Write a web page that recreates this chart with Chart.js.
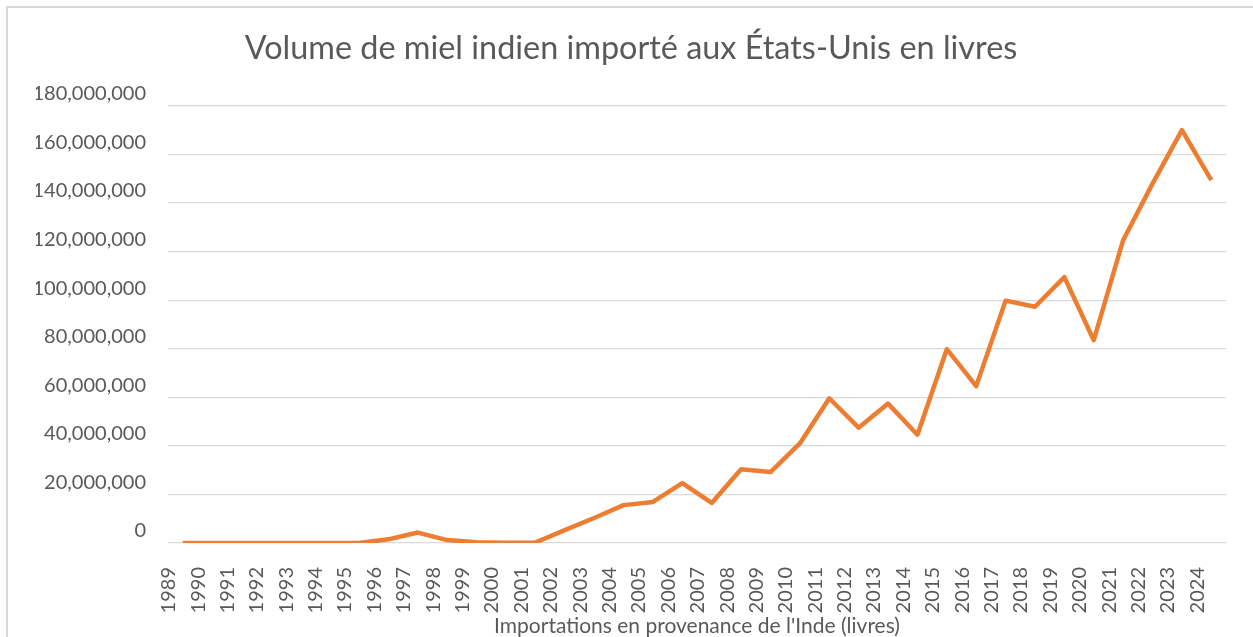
<!DOCTYPE html>
<html>
<head>
<meta charset="utf-8">
<script src="https://cdn.jsdelivr.net/npm/chart.js@4"></script>
<style>
  html, body { margin: 0; padding: 0; background: #fff; overflow: hidden; }
  #frame { position: absolute; left: 6px; top: 6px; width: 1300px; height: 700px; border: 2px solid #d9d9d9; }
  #wrap { position: absolute; left: 0; top: 0; width: 1253px; height: 637px; }
</style>
</head>
<body>
<div id="frame"></div>
<div id="wrap"><canvas id="chart"></canvas></div>
<script>
const years = ['1989','1990','1991','1992','1993','1994','1995','1996','1997','1998',
  '1999','2000','2001','2002','2003','2004','2005','2006','2007','2008','2009','2010',
  '2011','2012','2013','2014','2015','2016','2017','2018','2019','2020','2021','2022',
  '2023','2024'];

// livres importées depuis l'Inde
const importsLbs = [0, 0, 0, 0, 0, 0, 0, 1500000, 4300000, 1200000,
  300000, 100000, 200000, 5300000, 10300000, 15600000, 16900000, 24700000, 16500000, 30400000, 29200000, 41000000,
  59600000, 47500000, 57400000, 44600000, 79800000, 64600000, 99800000, 97300000, 109500000, 83500000, 124700000, 148000000,
  170000000, 149400000];

const yMax = 180000000;
const yStep = 20000000;

const grey = '#595959';
const font = 'Lato, "Open Sans", sans-serif';

const ctx = document.getElementById('chart').getContext('2d');
new Chart(ctx, {
  type: 'line',
  data: {
    labels: years,
    datasets: [{
      label: "Importations en provenance de l'Inde (livres)",
      data: importsLbs,
      borderColor: '#ED7D31',
      backgroundColor: '#ED7D31',
      borderWidth: 4.5,
      pointRadius: 0,
      tension: 0,
      borderJoinStyle: 'round'
    }]
  },
  options: {
    responsive: true,
    maintainAspectRatio: false,
    animation: false,
    layout: {
      padding: { left: 36, right: 27, top: 0, bottom: 0 }
    },
    plugins: {
      legend: { display: false },
      tooltip: { enabled: false },
      title: {
        display: true,
        text: 'Volume de miel indien importé aux États-Unis en livres',
        color: grey,
        font: { family: font, size: 32.4, weight: 'normal' },
        padding: { top: 29, bottom: 38 }
      }
    },
    scales: {
      x: {
        offset: true,
        grid: { display: false },
        border: { display: false },
        ticks: {
          color: grey,
          font: { family: font, size: 20 },
          minRotation: 90,
          maxRotation: 90,
          autoSkip: false,
          padding: 16,
          labelOffset: -14
        },
        title: {
          display: true,
          text: "Importations en provenance de l'Inde (livres)",
          color: grey,
          font: { family: font, size: 21, lineHeight: 1 },
          padding: { top: 0, bottom: 0 }
        },
        afterFit: (scale) => { scale.height = 94; }
      },
      y: {
        min: 0,
        max: yMax,
        grid: { color: '#d9d9d9', lineWidth: 1.3, drawTicks: false },
        border: { display: false },
        ticks: {
          stepSize: yStep,
          color: grey,
          font: { family: font, size: 20 },
          padding: 22,
          labelOffset: -12,
          callback: (v) => v.toLocaleString('en-US')
        },
        afterFit: (scale) => { scale.width = 132; }
      }
    }
  }
});
</script>
</body>
</html>
